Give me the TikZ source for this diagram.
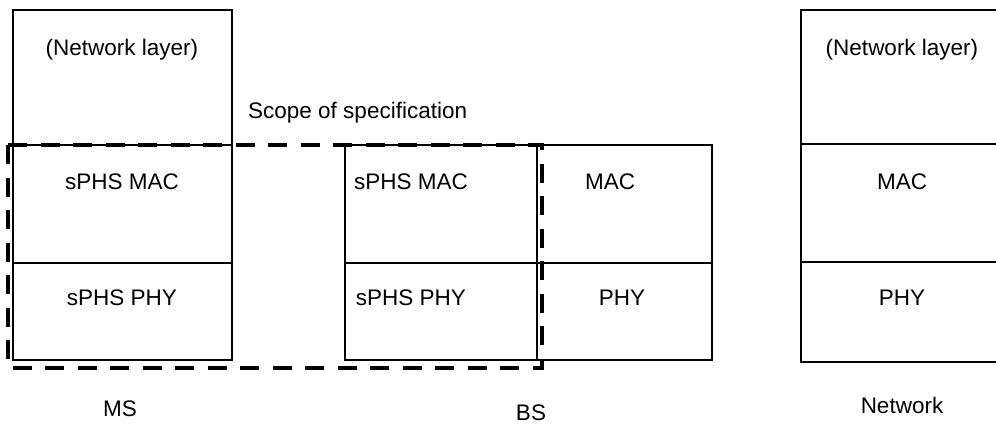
\documentclass[tikz,border=0pt]{standalone}
\usepackage{fontspec}
\setmainfont{Liberation Sans}
\begin{document}
\begin{tikzpicture}[x=1pt,y=-1pt,
  layer/.style={draw=black, line width=1.8pt, anchor=north west, inner sep=0pt, outer sep=0pt},
  txt/.style={inner sep=0pt, font=\fontsize{22.5}{27}\selectfont},
  scope/.style={draw=black, line width=4pt, dash pattern=on 19pt off 13.5pt}]
\useasboundingbox (0,0) rectangle (996,426);
\clip (0,0) rectangle (996,426);
% MS stack
\node[layer, minimum width=219pt, minimum height=135pt] (msnet) at (13,10) {};
\node[layer, minimum width=219pt, minimum height=118pt] (msmac) at (13,145) {};
\node[layer, minimum width=219pt, minimum height=97pt] (msphy) at (13,263) {};
% BS stack
\node[layer, minimum width=192pt, minimum height=118pt] (bssmac) at (345,145) {};
\node[layer, minimum width=192pt, minimum height=97pt] (bssphy) at (345,263) {};
\node[layer, minimum width=175pt, minimum height=118pt] (bsmac) at (537,145) {};
\node[layer, minimum width=175pt, minimum height=97pt] (bsphy) at (537,263) {};
% Network stack
\node[layer, minimum width=205pt, minimum height=134pt] (nwnet) at (801,10) {};
\node[layer, minimum width=205pt, minimum height=118pt] (nwmac) at (801,144) {};
\node[layer, minimum width=205pt, minimum height=100pt] (nwphy) at (801,262) {};
% scope of specification
\coordinate (scA) at (8,145);
\coordinate (scB) at (542,368);
\draw[scope] (scA) rectangle (scB);
% texts
\node[txt] (t1) at (122,50) {(Network layer)};
\node[txt] (t2) at (122,182) {sPHS MAC};
\node[txt] (t3) at (122,298) {sPHS PHY};
\node[txt] (t4) at (120,409) {MS};
\node[txt, anchor=west] (t5) at (248,113) {Scope of specification};
\node[txt] (t6) at (411,182) {sPHS MAC};
\node[txt] (t7) at (411,298) {sPHS PHY};
\node[txt] (t8) at (610,182) {MAC};
\node[txt] (t9) at (622,298) {PHY};
\node[txt] (t10) at (531,413) {BS};
\node[txt] (t11) at (902,50) {(Network layer)};
\node[txt] (t12) at (902,182) {MAC};
\node[txt] (t13) at (902,298) {PHY};
\node[txt] (t14) at (902,405) {Network};
\end{tikzpicture}
\end{document}
